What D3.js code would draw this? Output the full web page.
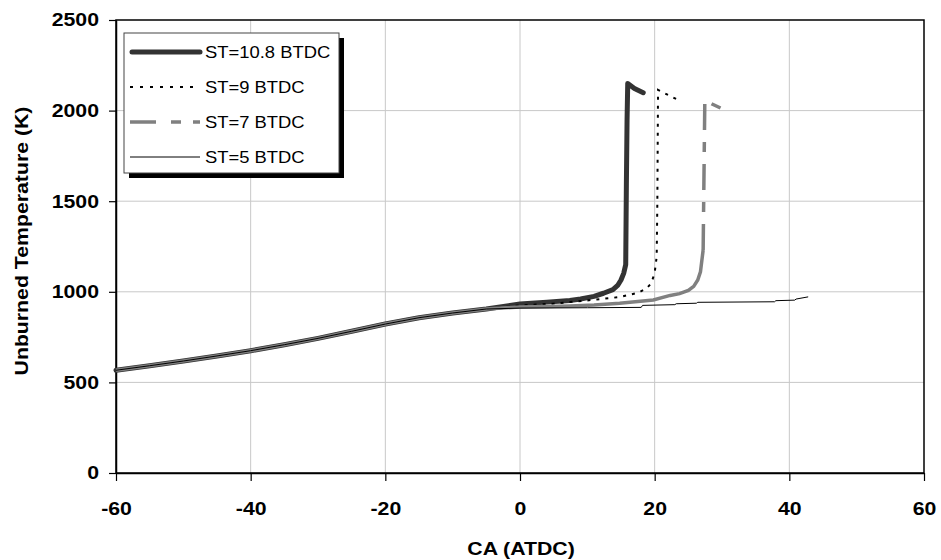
<!DOCTYPE html>
<html>
  <head>
    <meta charset="utf-8">
    <style>
      body { margin: 0; background: #fff; }
      svg text { font-family: Arial, "Liberation Sans", sans-serif; fill: #000; }
      .grid line { stroke: #c8c8c8; stroke-width: 1; }
    </style>
  </head>
  <body>
    <svg id="chart" width="941" height="560"></svg>

    <script src="https://d3js.org/d3.v7.min.js"></script>
    <script type="text/javascript">
      // shared compression part (all four runs lie on top of each other)
      const caBase = [-60, -55, -50, -45, -40, -35, -30, -25, -20, -15, -10, -5];
      const tBase = [567, 592, 618, 646, 675, 708, 743, 782, 822, 857, 883, 905];

      // ST=10.8 BTDC
      const ca108 = [0, 4, 7.4, 9, 11, 12.4, 13.8, 14.5, 15, 15.4, 15.7, 15.8, 15.9, 16.0, 17.0, 18.3];
      const t108 = [933, 943, 952, 960, 975, 992, 1012, 1035, 1065, 1102, 1150, 1600, 1950, 2150, 2122, 2099];

      // ST=9 BTDC
      const ca9 = [0, 5, 9.9, 12, 14.8, 17.5, 18.8, 19.5, 20.0, 20.3, 20.4, 20.5, 22.0, 23.2];
      const t9 = [925, 935, 952, 960, 971, 994, 1019, 1047, 1105, 1194, 1500, 2114, 2086, 2064];

      // ST=7 BTDC
      const ca7 = [0, 7.4, 11, 14.8, 19.8, 22.3, 23.7, 25, 25.8, 26.4, 26.8, 27.2, 27.45, 28.6, 29.9];
      const t7 = [916, 922, 927, 937, 955, 980, 990, 1008, 1030, 1065, 1110, 1231, 2060, 2035, 2012];

      // ST=5 BTDC
      const ca5 = [0, 10, 18.0, 18.2, 23.0, 23.2, 26.2, 26.4, 37.8, 38.0, 40.8, 41.0, 42.8];
      const t5 = [910, 912, 914, 925, 929, 934, 937, 942, 945, 951, 954, 960, 972];

      const seriesNames = ["ST=10.8 BTDC", "ST=9 BTDC", "ST=7 BTDC", "ST=5 BTDC"];
      const xTicks = [-60, -40, -20, 0, 20, 40, 60];
      const yTicks = [0, 500, 1000, 1500, 2000, 2500];

      const stretch = 1.15; // text in the picture is a bit wider than Arial
      const svg = d3.select("#chart");
      const plotL = 116, plotR = 924, plotT = 20, plotB = 473;

      const x = d3.scaleLinear().domain([-60, 60]).range([plotL, plotR]);
      const y = d3.scaleLinear().domain([0, 2500]).range([plotB, plotT]);

      function pts(ca, t) {
        return caBase.map((c, i) => [c, tBase[i]]).concat(ca.map((c, i) => [c, t[i]]));
      }

      // gridlines
      const grid = svg.append("g").attr("class", "grid");
      grid.selectAll(".gx").data(xTicks.slice(1, -1)).enter().append("line")
        .attr("x1", d => x(d)).attr("x2", d => x(d)).attr("y1", plotT).attr("y2", plotB);
      grid.selectAll(".gy").data(yTicks.slice(1, -1)).enter().append("line")
        .attr("x1", plotL).attr("x2", plotR).attr("y1", d => y(d)).attr("y2", d => y(d));

      // plot frame
      svg.append("rect")
        .attr("x", plotL).attr("y", plotT)
        .attr("width", plotR - plotL).attr("height", plotB - plotT)
        .attr("fill", "none").attr("stroke", "#000").attr("stroke-width", 1.5);

      // axes
      const plain = d => String(d);
      const yAxis = svg.append("g")
        .attr("transform", "translate(" + plotL + ",0)")
        .call(d3.axisLeft(y).tickValues(yTicks).tickFormat(plain).tickSize(7).tickPadding(9.5).tickSizeOuter(0));
      const xAxis = svg.append("g")
        .attr("transform", "translate(0," + plotB + ")")
        .call(d3.axisBottom(x).tickValues(xTicks).tickFormat(plain).tickSize(8).tickPadding(21).tickSizeOuter(0));

      [yAxis, xAxis].forEach(function(ax) {
        ax.select(".domain").attr("stroke-width", 1.5);
        ax.selectAll(".tick line").attr("stroke", "#000").attr("stroke-width", 1.2);
        ax.selectAll("text")
          .attr("font-family", "Arial, 'Liberation Sans', sans-serif")
          .attr("font-size", 18.5)
          .attr("font-weight", "bold")
          .attr("transform", "scale(" + stretch + ",1)");
      });
      yAxis.selectAll("text").attr("x", -17 / stretch);

      // axis titles
      svg.append("text")
        .attr("transform", "translate(521,555) scale(" + stretch + ",1)")
        .attr("text-anchor", "middle")
        .attr("font-size", 18.5).attr("font-weight", "bold")
        .text("CA (ATDC)");
      svg.append("text")
        .attr("transform", "translate(28,241) rotate(-90) scale(" + stretch + ",1)")
        .attr("text-anchor", "middle")
        .attr("font-size", 18.5).attr("font-weight", "bold")
        .text("Unburned Temperature (K)");

      const line = d3.line().x(d => x(d[0])).y(d => y(d[1]));

      // ST=10.8
      svg.append("path").datum(pts(ca108, t108))
        .attr("d", line).attr("fill", "none")
        .attr("stroke", "#333").attr("stroke-width", 5)
        .attr("stroke-linejoin", "round").attr("stroke-linecap", "round");

      // ST=9
      svg.append("path").datum(pts(ca9, t9))
        .attr("d", line).attr("fill", "none")
        .attr("stroke", "#000").attr("stroke-width", 2)
        .attr("stroke-dasharray", "3,6");

      // ST=7: dense part looks solid, the sparse rise is dashed
      const p7 = pts(ca7, t7);
      const split7 = caBase.length + t7.findIndex(t => t > 1200);
      svg.append("path").datum(p7.slice(0, split7 + 1))
        .attr("d", line).attr("fill", "none")
        .attr("stroke", "#808080").attr("stroke-width", 3.5);
      svg.append("path").datum(p7.slice(split7))
        .attr("d", line).attr("fill", "none")
        .attr("stroke", "#808080").attr("stroke-width", 3.5)
        .attr("stroke-dasharray", "26,12,10,12");

      // ST=5
      svg.append("path").datum(pts(ca5, t5))
        .attr("d", line).attr("fill", "none")
        .attr("stroke", "#000").attr("stroke-width", 1);

      // legend
      const legend = svg.append("g");
      legend.append("rect").attr("x", 129).attr("y", 38).attr("width", 215).attr("height", 140).attr("fill", "#000");
      legend.append("rect").attr("x", 124).attr("y", 33).attr("width", 215).attr("height", 140)
        .attr("fill", "#fff").attr("stroke", "#444").attr("stroke-width", 1);

      const legendStyles = [
        { stroke: "#333", width: 5, dash: null, cap: "round" },
        { stroke: "#000", width: 2, dash: "3,7", cap: "butt" },
        { stroke: "#808080", width: 3.5, dash: "26,15,10,12", cap: "butt" },
        { stroke: "#000", width: 1, dash: null, cap: "butt" }
      ];
      const rows = legend.selectAll(".row").data(seriesNames).enter().append("g")
        .attr("transform", (d, i) => "translate(0," + (52 + i * 35) + ")");
      rows.append("line")
        .attr("x1", (d, i) => i === 0 ? 132 : 130).attr("x2", 200).attr("y1", 0).attr("y2", 0)
        .attr("stroke", (d, i) => legendStyles[i].stroke)
        .attr("stroke-width", (d, i) => legendStyles[i].width)
        .attr("stroke-dasharray", (d, i) => legendStyles[i].dash)
        .attr("stroke-linecap", (d, i) => legendStyles[i].cap);
      rows.append("text")
        .attr("transform", "translate(205,6) scale(" + stretch + ",1)")
        .attr("font-size", 16)
        .text(d => d);
    </script>
  </body>
</html>
